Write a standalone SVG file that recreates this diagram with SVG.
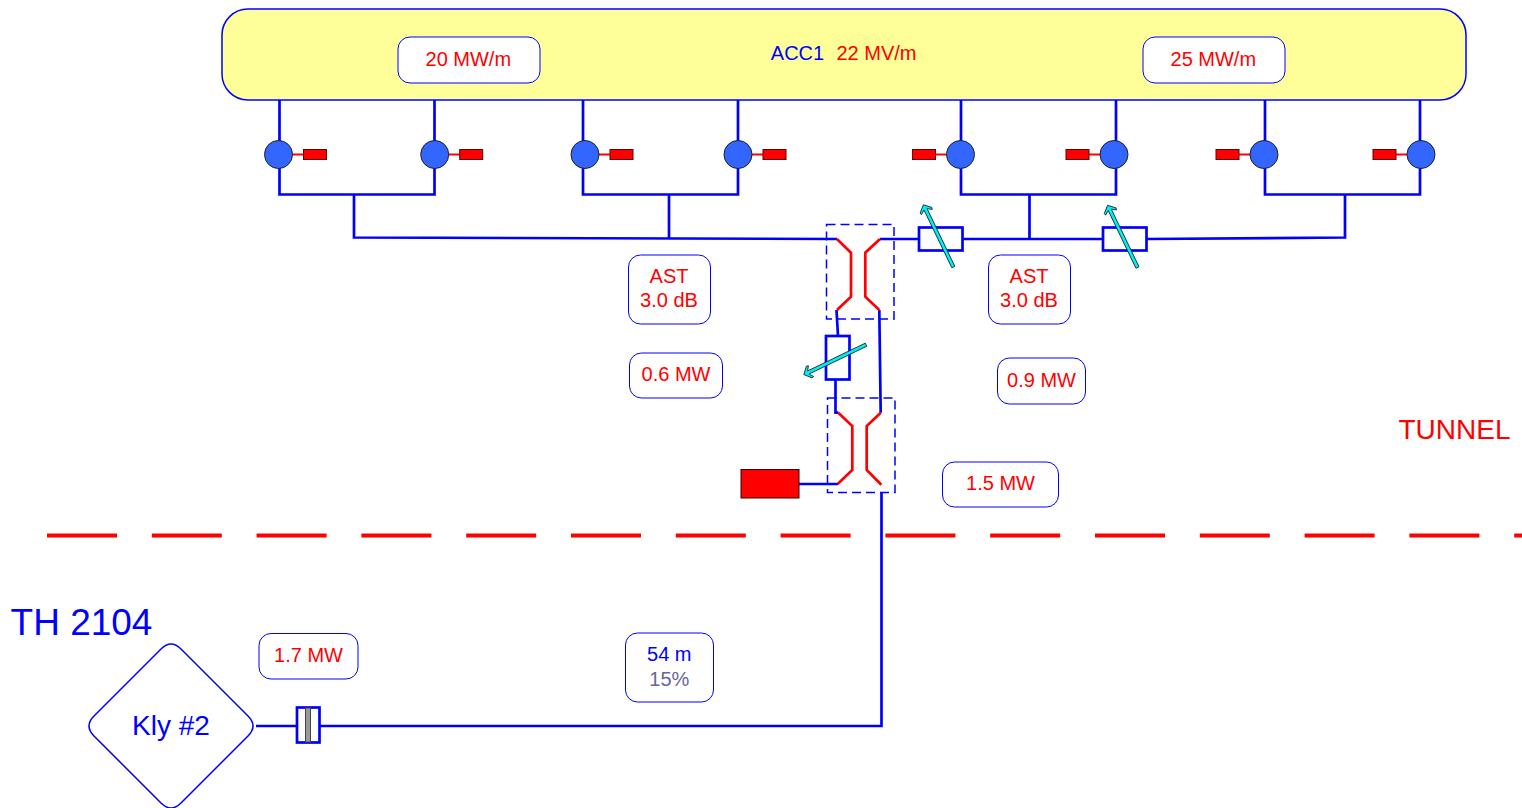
<svg xmlns="http://www.w3.org/2000/svg" width="1522" height="808" viewBox="0 0 1522 808">
<style>
text{font-family:"Liberation Sans",Arial,sans-serif;font-size:20px;text-anchor:middle}
.r{fill:#f00}.b{fill:#00f}
.lbl{fill:#fff;stroke:#00f;stroke-width:1}
.w{fill:none;stroke:#00f;stroke-width:2.7}
.c{fill:none;stroke:#f00;stroke-width:2.7}
.d{fill:none;stroke:#00f;stroke-width:1.5;stroke-dasharray:9 5}
.att{fill:#fff;stroke:#00f;stroke-width:2.7}
.circ{fill:#36f;stroke:#222;stroke-width:1}
.load{fill:#f00;stroke:#600;stroke-width:1}
.stub{stroke:#f00;stroke-width:2}
.arr{fill:#0ee;stroke:#123;stroke-width:.8}
</style>
<defs>
<g id="pw"><line class="stub" x1="13" y1="0" x2="26" y2="0"/><rect class="load" x="25" y="-5" width="23" height="10"/><circle class="circ" r="14"/></g>
<g id="pwl"><line class="stub" x1="-13" y1="0" x2="-26" y2="0"/><rect class="load" x="-48" y="-5" width="23" height="10"/><circle class="circ" r="14"/></g>
<polygon id="ar" class="arr" points="-1.700,0 -1.700,-64 -6,-61 -6.500,-63 0,-69 6.500,-63 6,-61 1.700,-64 1.700,0"/>
</defs>

<g id="connectors">
<path class="w" d="M279.500 100V194.500H434.500V100M354 194.500V237.500L837 239"/>
<path class="w" d="M583 100V194.500H738V100M669 194.500V239"/>
<path class="w" d="M961 100V194.500H1116V100M1029.500 194.500V239"/>
<path class="w" d="M1265 100V194.500H1420V100M1345 194.500V237.500L1146 239"/>
<path class="w" d="M880 239H919M962.500 239H1103"/>
<path class="w" d="M836.500 310L838 336M835.500 379V412.700H838.500M879.300 310L880.700 412.700"/>
<path class="w" d="M799 484H838M881.500 492V726H320M296 726H256"/>
<path fill="none" stroke="#f00" stroke-width="4" stroke-dasharray="70 34.800" d="M47 535.500H1522"/>
</g>

<g id="acc1"><rect x="222" y="9" width="1244" height="91" rx="26" fill="#ffff99" stroke="#00f" stroke-width="1.500"/>
<text x="797.500" y="60" class="b">ACC1</text><text x="876.500" y="60" class="r">22 MV/m</text></g>

<g id="label-20"><rect class="lbl" x="398" y="37" width="142" height="46" rx="12"/><text x="468.300" y="66" class="r">20 MW/m</text></g>
<g id="label-25"><rect class="lbl" x="1143" y="37" width="142" height="46" rx="12"/><text x="1213.300" y="66" class="r">25 MW/m</text></g>

<g id="pw1"><use href="#pw" x="278.500" y="154.500"/></g>
<g id="pw2"><use href="#pw" x="434.700" y="154.500"/></g>
<g id="pw3"><use href="#pw" x="585" y="154.500"/></g>
<g id="pw4"><use href="#pw" x="738" y="154.500"/></g>
<g id="pw5"><use href="#pwl" x="960.500" y="154.500"/></g>
<g id="pw6"><use href="#pwl" x="1114" y="154.500"/></g>
<g id="pw7"><use href="#pwl" x="1264" y="154.500"/></g>
<g id="pw8"><use href="#pwl" x="1421" y="154.500"/></g>

<g id="coupler-1"><rect class="d" x="826.500" y="224.500" width="67.500" height="94.500"/>
<path class="c" d="M837 239L851 252.700V296.700L837 310M880 239L865.300 252.700V296.700L879.300 310"/></g>
<g id="coupler-2"><rect class="d" x="827.500" y="398" width="67.500" height="94.500"/>
<path class="c" d="M838.300 412.700L852.300 426V470L837.700 484M880.700 412.700L866.700 426V470L881.300 484.700"/></g>

<g id="att-1"><rect class="att" x="919" y="227.500" width="43.500" height="23"/><use href="#ar" transform="translate(953.300 267) rotate(-25.700)"/></g>
<g id="att-2"><rect class="att" x="1103" y="227.500" width="43.500" height="23"/><use href="#ar" transform="translate(1137.500 267.500) rotate(-25.700)"/></g>
<g id="att-3"><rect class="att" x="826" y="336" width="23.500" height="43.500"/><use href="#ar" transform="translate(866 344.700) rotate(-115.700)"/></g>

<g id="load"><rect x="741" y="469.500" width="58" height="28.500" fill="#f00" stroke="#300" stroke-width="1"/></g>

<g id="label-ast1"><rect class="lbl" x="628.500" y="255" width="82" height="69" rx="12"/><text x="669" y="283" class="r">AST</text><text x="669" y="307" class="r">3.0 dB</text></g>
<g id="label-ast2"><rect class="lbl" x="988.500" y="255" width="82" height="69" rx="12"/><text x="1029" y="283" class="r">AST</text><text x="1029" y="307" class="r">3.0 dB</text></g>
<g id="label-06"><rect class="lbl" x="629.500" y="353" width="93" height="45" rx="12"/><text x="676" y="381" class="r">0.6 MW</text></g>
<g id="label-09"><rect class="lbl" x="997.500" y="358" width="88" height="46" rx="12"/><text x="1041.500" y="387" class="r">0.9 MW</text></g>
<g id="label-15"><rect class="lbl" x="942.500" y="462" width="116" height="45" rx="12"/><text x="1000.500" y="490" class="r">1.5 MW</text></g>
<g id="label-17"><rect class="lbl" x="259" y="633.500" width="99" height="45.500" rx="12"/><text x="308.500" y="662" class="r">1.7 MW</text></g>
<g id="label-54"><rect class="lbl" x="625.500" y="633" width="88" height="69" rx="12"/><text x="669.300" y="661" class="b">54 m</text><text x="669.300" y="686" fill="#666699">15%</text></g>

<text id="tunnel" x="1454.500" y="439" class="r" style="font-size:28px">TUNNEL</text>
<text id="th" x="81.500" y="635" class="b" style="font-size:37px">TH 2104</text>

<g id="klystron"><path d="M161 649Q171 639 181 649L248 716Q258 726 248 736L181 803Q171 813 161 803L94 736Q84 726 94 716Z" fill="#fff" stroke="#00f" stroke-width="1.500"/>
<text x="171" y="735" class="b" style="font-size:28px">Kly #2</text></g>

<g id="window"><rect x="297" y="707.500" width="22.500" height="35" fill="#fff" stroke="#00f" stroke-width="2.700"/><rect x="305.500" y="708" width="5" height="34" fill="#999" stroke="#444" stroke-width="1"/></g>
</svg>
